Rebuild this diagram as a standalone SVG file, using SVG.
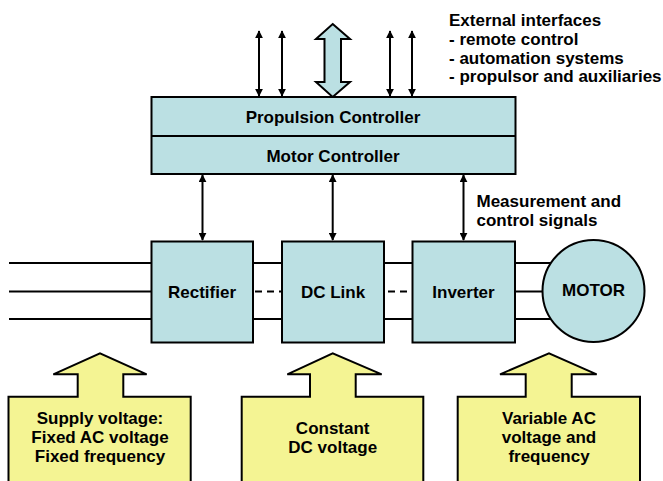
<svg xmlns="http://www.w3.org/2000/svg" width="663" height="481" viewBox="0 0 663 481">
<style>
text{font-family:"Liberation Sans",Arial,sans-serif;font-weight:bold;font-size:17px;fill:#000}
.c{text-anchor:middle}
.blue{fill:#BBE0E3;stroke:#000;stroke-width:2}
.yel{fill:#F4F493;stroke:#000;stroke-width:2}
.ln{stroke:#000;stroke-width:2;fill:none}
.dash{stroke:#000;stroke-width:2;fill:none;stroke-dasharray:7 5}
.arr{stroke:#000;stroke-width:2;fill:none;marker-start:url(#ah);marker-end:url(#ah)}
</style>
<defs>
<marker id="ah" viewBox="0 0 10 10" refX="9" refY="5" markerWidth="4" markerHeight="4" orient="auto-start-reverse" markerUnits="strokeWidth">
<path d="M0,0 L10,5 L0,10 Z" fill="#000"/>
</marker>
</defs>
<g id="connectors">
<line class="arr" x1="259" y1="31" x2="259" y2="96"/>
<line class="arr" x1="282" y1="31" x2="282" y2="96"/>
<line class="arr" x1="390" y1="31" x2="390" y2="96"/>
<line class="arr" x1="412" y1="31" x2="412" y2="96"/>
<path class="blue" d="M332.7,24 L350,39 L341,39 L341,82 L350,82 L332.7,97 L316,82 L324.5,82 L324.5,39 L316,39 Z"/>
<line class="arr" x1="202.5" y1="175" x2="202.5" y2="240"/>
<line class="arr" x1="332.7" y1="175" x2="332.7" y2="240"/>
<line class="arr" x1="463.5" y1="175" x2="463.5" y2="240"/>
<line class="ln" x1="9" y1="263" x2="152" y2="263"/>
<line class="ln" x1="9" y1="291.5" x2="152" y2="291.5"/>
<line class="ln" x1="9" y1="319" x2="152" y2="319"/>
<line class="ln" x1="253" y1="263" x2="282" y2="263"/>
<line class="ln" x1="253" y1="319" x2="282" y2="319"/>
<line class="dash" x1="253" y1="291.5" x2="282" y2="291.5" stroke-dashoffset="-2"/>
<line class="ln" x1="384" y1="263" x2="412" y2="263"/>
<line class="ln" x1="384" y1="319" x2="412" y2="319"/>
<line class="dash" x1="384" y1="291.5" x2="412" y2="291.5" stroke-dashoffset="-4"/>
<line class="ln" x1="515" y1="263" x2="560" y2="263"/>
<line class="ln" x1="515" y1="291.5" x2="560" y2="291.5"/>
<line class="ln" x1="515" y1="319" x2="560" y2="319"/>
</g>
<g id="controller">
<rect class="blue" x="151.5" y="97" width="364" height="77"/>
<line class="ln" x1="151.5" y1="136" x2="515.5" y2="136"/>
<text class="c" x="333" y="123">Propulsion Controller</text>
<text class="c" x="333" y="162">Motor Controller</text>
</g>
<g id="external">
<text x="449" y="26">External interfaces</text>
<text x="449" y="45">- remote control</text>
<text x="449" y="63.5">- automation systems</text>
<text x="449" y="82">- propulsor and auxiliaries</text>
</g>
<g id="measurement">
<text x="476.5" y="207">Measurement and</text>
<text x="476.5" y="226">control signals</text>
</g>
<g id="rectifier">
<rect class="blue" x="151.5" y="241.5" width="101.5" height="101"/>
<text class="c" x="202" y="298">Rectifier</text>
</g>
<g id="dclink">
<rect class="blue" x="282" y="241.5" width="102" height="101"/>
<text class="c" x="333" y="298">DC Link</text>
</g>
<g id="inverter">
<rect class="blue" x="412.5" y="241.5" width="102.5" height="101"/>
<text class="c" x="463.5" y="298">Inverter</text>
</g>
<g id="motor">
<circle class="blue" cx="593.5" cy="291" r="51"/>
<text class="c" x="593.5" y="296">MOTOR</text>
</g>
<g id="supply">
<path class="yel" d="M8.5,490 L8.5,396.7 L77.7,396.7 L77.7,374.3 L53.3,374.3 L100,353.3 L146.7,374.3 L123.3,374.3 L123.3,396.7 L190.7,396.7 L190.7,490"/>
<text class="c" x="100" y="424">Supply voltage:</text>
<text class="c" x="100" y="443">Fixed AC voltage</text>
<text class="c" x="100" y="462">Fixed frequency</text>
</g>
<g id="dcvoltage">
<path class="yel" d="M241.7,490 L241.7,396.7 L310,396.7 L310,374.3 L287.3,374.3 L332.7,353.3 L381.7,374.3 L355.7,374.3 L355.7,396.7 L423.3,396.7 L423.3,490"/>
<text class="c" x="332.7" y="434">Constant</text>
<text class="c" x="332.7" y="453">DC voltage</text>
</g>
<g id="acvoltage">
<path class="yel" d="M457.7,490 L457.7,396.7 L525.7,396.7 L525.7,374.3 L500,374.3 L549,353.3 L596.7,374.3 L571.7,374.3 L571.7,396.7 L640,396.7 L640,490"/>
<text class="c" x="549" y="424">Variable AC</text>
<text class="c" x="549" y="443">voltage and</text>
<text class="c" x="549" y="462">frequency</text>
</g>
</svg>
